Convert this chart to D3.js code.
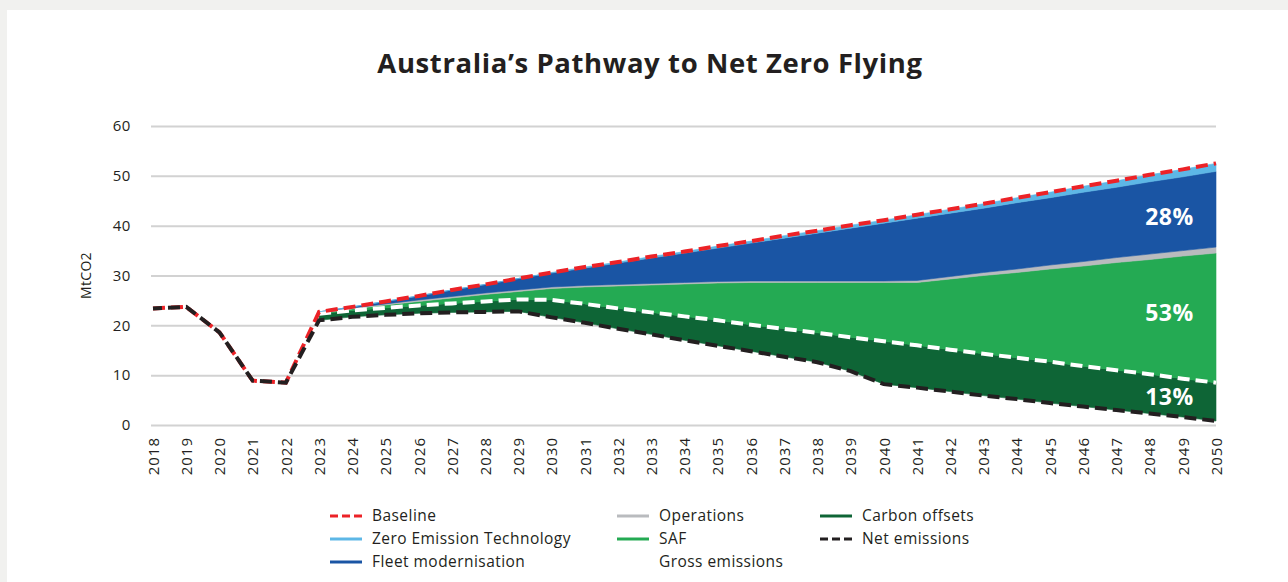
<!DOCTYPE html>
<html>
<head>
<meta charset="utf-8">
<script src="https://cdn.jsdelivr.net/npm/d3@7"></script>
<style>
  html, body { margin: 0; padding: 0; background: #f1f1ef; }
  svg { display: block; }
  text { font-family: "Open Sans", "Noto Sans", sans-serif; fill: #231f20; }
</style>
</head>
<body>
<svg id="chart" width="1288" height="582"></svg>
<script>
// ---- Data (MtCO2) ----
const years = [2018, 2019, 2020, 2021, 2022, 2023, 2024, 2025, 2026, 2027, 2028, 2029, 2030,
  2031, 2032, 2033, 2034, 2035, 2036, 2037, 2038, 2039, 2040, 2041, 2042, 2043, 2044, 2045,
  2046, 2047, 2048, 2049, 2050];

// Historic emissions, identical for baseline and net
const historyYears = [2018, 2019, 2020, 2021, 2022];
const historyEmissions = [23.4, 23.7, 18.6, 8.9, 8.5];

// Projection 2023-2050, stacked from the bottom up
const projectionYears = [2023, 2024, 2025, 2026, 2027, 2028, 2029, 2030, 2031, 2032, 2033, 2034,
  2035, 2036, 2037, 2038, 2039, 2040, 2041, 2042, 2043, 2044, 2045, 2046, 2047, 2048, 2049, 2050];
const netEmissions = [21.0, 21.7, 22.1, 22.4, 22.6, 22.7, 22.8, 21.6, 20.5, 19.3, 18.2, 17.0,
  15.9, 14.8, 13.7, 12.6, 10.8, 8.2, 7.5, 6.7, 5.9, 5.2, 4.4, 3.7, 3.0, 2.3, 1.6, 0.8];
const carbonOffsets = [1.3, 1.3, 1.4, 1.6, 1.8, 2.1, 2.4, 3.5, 3.8, 4.1, 4.4, 4.8,
  5.1, 5.3, 5.6, 5.9, 6.8, 8.6, 8.5, 8.4, 8.4, 8.3, 8.3, 8.1, 8.0, 7.9, 7.7, 7.7];
const saf = [0.1, 0.3, 0.6, 0.8, 1.1, 1.4, 1.6, 2.3, 3.4, 4.5, 5.5, 6.5,
  7.5, 8.5, 9.3, 10.1, 11.0, 11.8, 12.6, 14.2, 15.7, 17.1, 18.6, 20.1, 21.6, 23.0, 24.6, 26.0];
const operations = [0.1, 0.2, 0.2, 0.3, 0.3, 0.3, 0.3, 0.3, 0.3, 0.3, 0.3, 0.3,
  0.3, 0.3, 0.3, 0.3, 0.3, 0.3, 0.4, 0.5, 0.6, 0.7, 0.8, 0.9, 1.0, 1.1, 1.1, 1.2];
const fleetModernisation = [0.2, 0.2, 0.5, 0.8, 1.3, 1.7, 2.3, 2.8, 3.5, 4.3, 5.1, 5.9,
  6.7, 7.6, 8.6, 9.6, 10.6, 11.6, 12.5, 12.7, 12.9, 13.3, 13.5, 13.9, 14.1, 14.5, 14.8, 15.2];
const zeroEmissionTech = [0, 0, 0, 0, 0, 0, 0, 0.1, 0.2, 0.2, 0.3, 0.3,
  0.4, 0.4, 0.5, 0.5, 0.6, 0.6, 0.7, 0.8, 0.9, 1.0, 1.1, 1.2, 1.3, 1.4, 1.5, 1.6];

const yTicks = [0, 10, 20, 30, 40, 50, 60];
const shareLabels = ["28%", "53%", "13%"];   // fleet, SAF, carbon offsets in 2050

const colors = {
  baseline: "#ec2227",
  zet: "#5db7e6",
  fleet: "#1a55a4",
  ops: "#b9bbbe",
  saf: "#24aa53",
  offsets: "#0e6536",
  net: "#231f20",
  gross: "#ffffff"
};

// ---- Layout ----
const svg = d3.select("#chart");
const W = 1288, H = 582;
const plot = { left: 152, right: 1216, top: 126, bottom: 425 };

svg.append("rect").attr("x", 7).attr("y", 10).attr("width", W - 7).attr("height", H - 10)
  .attr("fill", "#ffffff");

const x = d3.scaleLinear().domain([2018, 2050]).range([plot.left + 1, plot.right]);
const y = d3.scaleLinear().domain([0, 60]).range([plot.bottom, plot.top]);

// Title
svg.append("text")
  .attr("x", 650).attr("y", 73)
  .attr("text-anchor", "middle")
  .style("font-size", "27.5px").style("font-weight", 700)
  .style("letter-spacing", "0.6px")
  .text("Australia\u2019s Pathway to Net Zero Flying");

// Grid + y axis
const yAxis = d3.axisLeft(y).tickValues(yTicks).tickSize(-(plot.right - plot.left + 1)).tickPadding(20);
const gy = svg.append("g").attr("transform", `translate(${plot.left - 1},0)`).call(yAxis);
gy.select(".domain").remove();
gy.selectAll(".tick line").attr("stroke", "#d2d2d2").attr("stroke-width", 2);
gy.selectAll(".tick text").style("font-size", "15px").attr("fill", "#231f20")
  .style("font-family", "'Open Sans', sans-serif")
  .style("letter-spacing", "0.6px");

svg.append("text")
  .attr("transform", `translate(91,${(plot.top + plot.bottom) / 2}) rotate(-90)`)
  .attr("text-anchor", "middle")
  .style("font-size", "14px")
  .style("letter-spacing", "0.3px")
  .text("MtCO2");

// x axis labels (rotated)
const xAxis = d3.axisBottom(x).tickValues(years).tickFormat(d3.format("d")).tickSize(0);
const gx = svg.append("g").attr("transform", `translate(0,${plot.bottom})`).call(xAxis);
gx.select(".domain").remove();
gx.selectAll(".tick text")
  .attr("transform", "rotate(-90)")
  .attr("x", -12).attr("y", 0).attr("dy", "0.35em")
  .attr("text-anchor", "end")
  .attr("fill", "#231f20")
  .style("font-size", "15px")
  .style("font-family", "'Open Sans', sans-serif")
  .style("letter-spacing", "1px");

// ---- Stacked projection ----
const keys = ["net", "offsets", "saf", "ops", "fleet", "zet"];
const rows = projectionYears.map((yr, i) => ({
  year: yr,
  net: netEmissions[i],
  offsets: carbonOffsets[i],
  saf: saf[i],
  ops: operations[i],
  fleet: fleetModernisation[i],
  zet: zeroEmissionTech[i]
}));
const series = d3.stack().keys(keys)(rows);
const byKey = Object.fromEntries(series.map(s => [s.key, s]));

const area = d3.area()
  .x(d => x(d.data.year))
  .y0(d => y(d[0]))
  .y1(d => y(d[1]));

svg.append("g").selectAll("path")
  .data(series.filter(s => s.key !== "net"))
  .join("path")
  .attr("d", area)
  .attr("fill", d => colors[d.key])
  .attr("stroke", d => colors[d.key])
  .attr("stroke-width", 0.6);

const line = d3.line().x(d => x(d[0])).y(d => y(d[1]));

// Gross emissions = net + carbon offsets
const grossPts = byKey.offsets.map(d => [d.data.year, d[1]]);
// Baseline = top of the stack, joined to the historic series
const baselinePts = historyYears.map((yr, i) => [yr, historyEmissions[i]])
  .concat(byKey.zet.map(d => [d.data.year, d[1]]));
const netPts = historyYears.map((yr, i) => [yr, historyEmissions[i]])
  .concat(byKey.net.map(d => [d.data.year, d[1]]));

svg.append("path").datum(grossPts).attr("d", line)
  .attr("fill", "none").attr("stroke", colors.gross)
  .attr("stroke-width", 4).attr("stroke-dasharray", "12 6");

svg.append("path").datum(baselinePts).attr("d", line)
  .attr("fill", "none").attr("stroke", colors.baseline)
  .attr("stroke-width", 4).attr("stroke-dasharray", "12 6");

svg.append("path").datum(netPts).attr("d", line)
  .attr("fill", "none").attr("stroke", colors.net)
  .attr("stroke-width", 4).attr("stroke-dasharray", "12 6")
  .attr("stroke-dashoffset", 3);

// Share labels inside the bands, near the 2050 edge
const labelYear = 2048.6;
const lastIdx = rows.length - 1;
const bandAt = (k, f) => {
  const d = byKey[k][lastIdx - 1], e = byKey[k][lastIdx];
  const t = labelYear - d.data.year;
  const a = d[0] + f * (d[1] - d[0]), b = e[0] + f * (e[1] - e[0]);
  return a * (1 - t) + b * t;
};
const labelFrac = [0.48, 0.54, 0.5];
["fleet", "saf", "offsets"].forEach((k, i) => {
  svg.append("text")
    .attr("x", x(labelYear)).attr("y", y(bandAt(k, labelFrac[i])))
    .attr("dy", "0.36em")
    .attr("text-anchor", "middle")
    .style("font-size", "23px").style("font-weight", 700)
    .style("letter-spacing", "0.5px")
    .style("fill", "#ffffff")
    .text(shareLabels[i]);
});

// ---- Legend ----
const legendItems = [
  { label: "Baseline", color: colors.baseline, dash: true, col: 0, row: 0 },
  { label: "Zero Emission Technology", color: colors.zet, dash: false, col: 0, row: 1 },
  { label: "Fleet modernisation", color: colors.fleet, dash: false, col: 0, row: 2 },
  { label: "Operations", color: colors.ops, dash: false, col: 1, row: 0 },
  { label: "SAF", color: colors.saf, dash: false, col: 1, row: 1 },
  { label: "Gross emissions", color: colors.gross, dash: true, col: 1, row: 2 },
  { label: "Carbon offsets", color: colors.offsets, dash: false, col: 2, row: 0 },
  { label: "Net emissions", color: colors.net, dash: true, col: 2, row: 1 }
];
const colX = [330, 617, 820];
const rowY = [516, 539, 562];
const lg = svg.append("g").selectAll("g").data(legendItems).join("g")
  .attr("transform", d => `translate(${colX[d.col]},${rowY[d.row]})`);
lg.append("line")
  .attr("x1", 0).attr("x2", 32).attr("y1", 0).attr("y2", 0)
  .attr("stroke", d => d.color).attr("stroke-width", 3)
  .attr("stroke-dasharray", d => d.dash ? "8 4" : null);
lg.append("text")
  .attr("x", 42).attr("y", 0).attr("dy", "0.35em")
  .style("font-size", "15.5px")
  .style("letter-spacing", "0.45px")
  .text(d => d.label);
</script>
</body>
</html>
